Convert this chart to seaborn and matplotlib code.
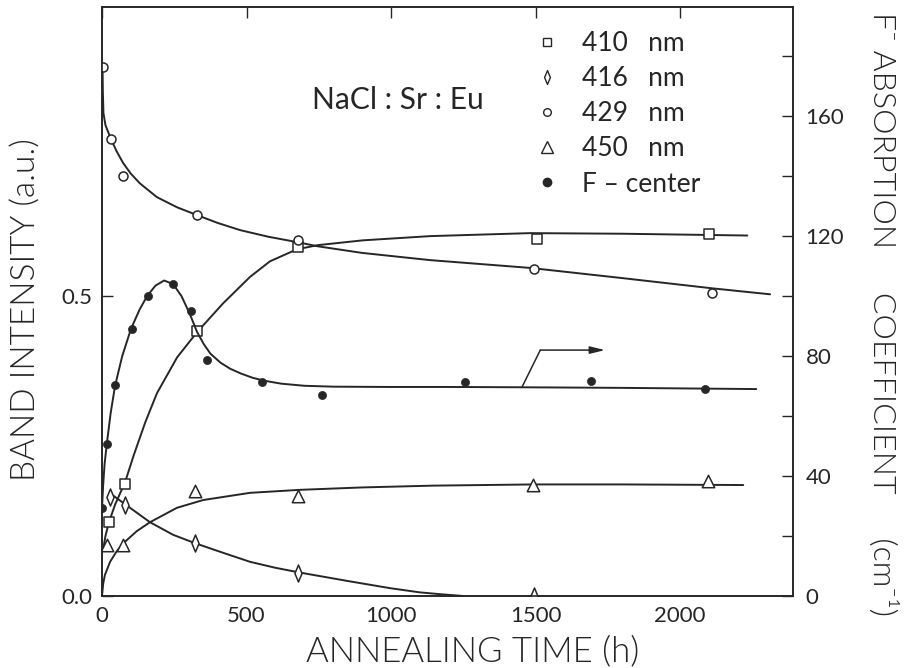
import matplotlib
matplotlib.use("Agg")
import matplotlib.pyplot as plt
from matplotlib.lines import Line2D
from matplotlib.path import Path
import seaborn as sns

# ---- measured points: band intensity (a.u.) vs annealing time (h) ----
t_410 = [24, 80, 330, 677, 1505, 2100]
i_410 = [0.123, 0.187, 0.442, 0.582, 0.595, 0.603]
t_416 = [28, 80, 322, 677, 1495]
i_416 = [0.165, 0.152, 0.088, 0.038, 0.0]
t_429 = [3, 31, 72, 330, 677, 1495, 2110]
i_429 = [0.882, 0.762, 0.700, 0.636, 0.593, 0.545, 0.505]
t_450 = [17, 74, 322, 677, 1492, 2097]
i_450 = [0.085, 0.085, 0.175, 0.167, 0.185, 0.192]

# ---- F-center absorption coefficient (cm^-1) ----
t_fc = [0, 17, 45, 103, 158, 247, 307, 364, 552, 760, 1256, 1690, 2087]
k_fc = [29.3, 50.7, 70.3, 89, 100, 104, 95, 78.7, 71.3, 67, 71.3, 71.7, 69]

# ---- hand-drawn guide curves ----
c410_t = [3, 12, 24, 45, 80, 110, 150, 190, 260, 329, 419, 512, 581, 674, 747,
          903, 1135, 1481, 1800, 2232]
c410_i = [0.075, 0.100, 0.123, 0.152, 0.190, 0.235, 0.290, 0.338, 0.398, 0.440,
          0.488, 0.532, 0.558, 0.578, 0.585, 0.593, 0.600, 0.605, 0.604, 0.601]
c416_t = [40, 97, 166, 246, 322, 419, 512, 600, 685, 850, 997, 1100, 1170, 1250]
c416_i = [0.167, 0.147, 0.123, 0.102, 0.088, 0.072, 0.057, 0.047, 0.039, 0.025,
          0.013, 0.006, 0.003, 0.0]
c429_t = [2, 3, 5, 12, 31, 50, 73, 100, 131, 190, 260, 329, 400, 478, 575, 675,
          747, 900, 1135, 1481, 1800, 2110, 2311]
c429_i = [0.880, 0.840, 0.805, 0.785, 0.762, 0.742, 0.722, 0.704, 0.688, 0.665,
          0.648, 0.635, 0.622, 0.610, 0.599, 0.590, 0.583, 0.572, 0.560, 0.547,
          0.530, 0.513, 0.503]
c450_t = [0, 4, 10, 28, 50, 74, 120, 166, 259, 350, 512, 685, 900, 1145, 1492,
          1800, 2218]
c450_i = [0.0, 0.020, 0.035, 0.057, 0.074, 0.088, 0.108, 0.123, 0.147, 0.160,
          0.172, 0.177, 0.181, 0.184, 0.186, 0.186, 0.185]
cfc_t = [0, 4, 9, 17, 30, 45, 70, 100, 130, 156, 185, 215, 246, 275, 304, 329,
         352, 375, 410, 443, 480, 520, 560, 620, 700, 800, 1000, 1200, 1450,
         1800, 2263]
cfc_k = [29, 37, 44, 51, 61, 70, 80, 89, 95.5, 100, 103.5, 105.2, 104, 100, 94,
         88, 84, 80.8, 77.8, 75.8, 74.2, 72.8, 71.8, 70.8, 70.1, 69.8, 69.7,
         69.7, 69.6, 69.4, 69.0]

# arrow pointing the F-center curve to the right-hand scale
arrow_t = [1453, 1516, 1740]
arrow_k = [69.7, 82, 82]

x_ticks = [0, 500, 1000, 1500, 2000]
left_ticks = [0.0, 0.5]
right_major = [0, 40, 80, 120, 160]
right_minor = [20, 60, 100, 140, 180]

legend_labels = ["410   nm", "416   nm", "429   nm", "450   nm", "F – center"]

sns.set_style("white")
plt.rcParams["font.family"] = ["Lato", "DejaVu Sans"]
plt.rcParams["font.weight"] = "normal"

ink = "#262626"
lw = 1.4
label_weight = 300

fig = plt.figure(figsize=(9.05, 6.68), dpi=100)
ax = fig.add_axes([0.1127, 0.1078, 0.7635, 0.8817])
ax2 = ax.twinx()

# slim diamond marker
diamond = Path([(0, 1), (0.42, 0), (0, -1), (-0.42, 0), (0, 1)],
               [Path.MOVETO, Path.LINETO, Path.LINETO, Path.LINETO, Path.CLOSEPOLY])

# guide curves
for tt, yy in [(c410_t, c410_i), (c416_t, c416_i), (c429_t, c429_i), (c450_t, c450_i)]:
    sns.lineplot(x=tt, y=yy, ax=ax, color=ink, lw=lw, estimator=None, sort=False,
                 zorder=2)
sns.lineplot(x=cfc_t, y=cfc_k, ax=ax2, color=ink, lw=lw, estimator=None, sort=False,
             zorder=2)

# measured points
open_kw = dict(facecolor="white", edgecolor=ink, linewidth=1.1, zorder=4)
sns.scatterplot(x=t_410, y=i_410, ax=ax, marker="s", s=55, **open_kw)
sns.scatterplot(x=t_416, y=i_416, ax=ax, marker=diamond, s=150, **open_kw)
sns.scatterplot(x=t_429, y=i_429, ax=ax, marker="o", s=42, **open_kw)
sns.scatterplot(x=t_450, y=i_450, ax=ax, marker="^", s=80, **open_kw)
sns.scatterplot(x=t_fc, y=k_fc, ax=ax2, marker="o", s=34, color=ink,
                edgecolor=ink, linewidth=0.5, zorder=4)

ax2.plot(arrow_t[:2], arrow_k[:2], color=ink, lw=1.1)
ax2.annotate("", xy=(arrow_t[2], arrow_k[2]), xytext=(arrow_t[1], arrow_k[1]),
             arrowprops=dict(arrowstyle="-|>,head_length=0.9,head_width=0.22",
                             color=ink, lw=1.1, shrinkA=0, shrinkB=0))

# axes limits and ticks
ax.set_xlim(0, 2390)
ax.set_ylim(0, 0.982)
ax2.set_ylim(0, 196.4)

ax.set_xticks(x_ticks)
ax.set_xticklabels([str(v) for v in x_ticks])
ax.set_yticks(left_ticks)
ax.set_yticklabels(["0.0", "0.5"])
ax2.set_yticks(right_major)
ax2.set_yticklabels([str(v) for v in right_major])
ax2.set_yticks(right_minor, minor=True)

ax.tick_params(axis="both", which="both", direction="in", length=8, width=1.0,
               color=ink, labelcolor=ink, labelsize=16, pad=7,
               top=True, right=False)
ax2.tick_params(axis="y", which="both", direction="in", length=8, width=1.0,
                color=ink, labelcolor=ink, labelsize=16, pad=9)

for a in (ax, ax2):
    for sp in a.spines.values():
        sp.set_color(ink)
        sp.set_linewidth(1.2)

ax.set_xlabel("ANNEALING TIME (h)", fontsize=25, color=ink,
              fontweight=label_weight)
ax.xaxis.set_label_coords(0.537, -0.066)
ax.set_ylabel("BAND INTENSITY (a.u.)", fontsize=24, color=ink,
              fontweight=label_weight)
ax.yaxis.set_label_coords(-0.088, 0.486)
ax2.set_ylabel("F⁻ ABSORPTION     COEFFICIENT     (cm⁻¹)", fontsize=23,
               color=ink, rotation=270, va="bottom", fontweight=label_weight)
ax2.yaxis.set_label_coords(1.107, 0.478)

ax.text(727, 0.827, "NaCl : Sr : Eu", fontsize=21.5, color=ink, ha="left",
        va="center")

handles = [
    Line2D([], [], ls="none", marker="s", ms=6, mfc="white", mec=ink, mew=1.0),
    Line2D([], [], ls="none", marker=diamond, ms=10, mfc="white", mec=ink, mew=1.0),
    Line2D([], [], ls="none", marker="o", ms=5.5, mfc="white", mec=ink, mew=1.0),
    Line2D([], [], ls="none", marker="^", ms=8, mfc="white", mec=ink, mew=1.0),
    Line2D([], [], ls="none", marker="o", ms=6, mfc=ink, mec=ink, mew=1.0),
]
leg = ax.legend(handles, legend_labels, loc="upper left",
                bbox_to_anchor=(0.593, 0.953), bbox_transform=fig.transFigure,
                frameon=False, fontsize=19, handlelength=0.8, handletextpad=0.9,
                labelspacing=0.38, borderpad=0, borderaxespad=0)
for txt in leg.get_texts():
    txt.set_color(ink)

fig.savefig("out.png", dpi=100, facecolor="white")
